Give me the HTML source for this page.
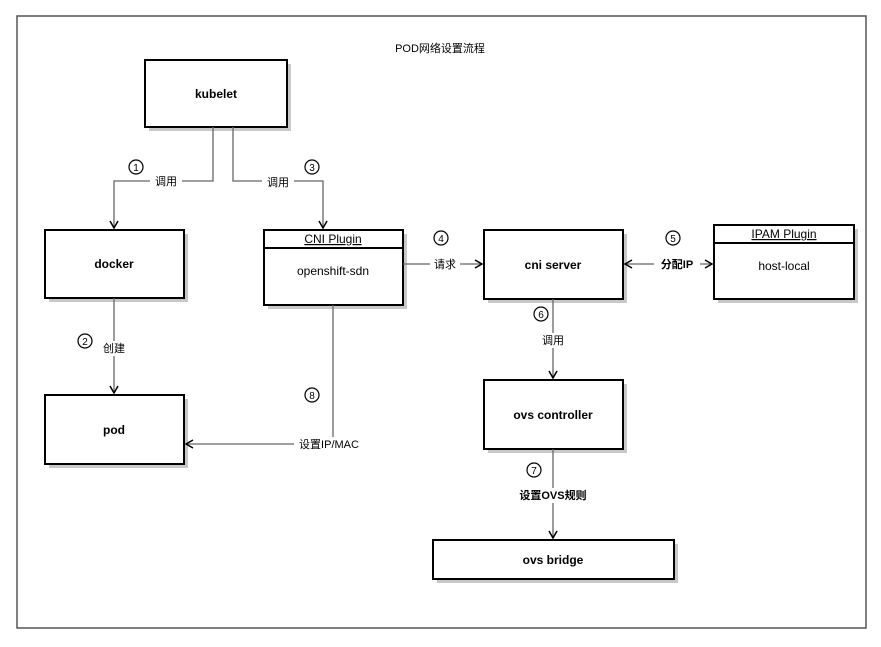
<!DOCTYPE html><html><head><meta charset="utf-8"><style>html,body{margin:0;padding:0;background:#fff}svg{display:block}text{font-family:"Liberation Sans","Noto Sans CJK SC",sans-serif;fill:#000}</style></head><body>
<svg width="881" height="647" viewBox="0 0 881 647" xmlns="http://www.w3.org/2000/svg">
<defs><marker id="a" markerWidth="10" markerHeight="10" refX="8" refY="5" orient="auto-start-reverse" markerUnits="userSpaceOnUse"><path d="M1,1 L8,5 L1,9" fill="none" stroke="#000" stroke-width="1.5"/></marker></defs>
<rect x="17" y="16" width="849" height="612" fill="#fff" stroke="#555" stroke-width="1.5"/>
<text x="440" y="52" font-size="11" text-anchor="middle" fill="#333">POD网络设置流程</text>
<g fill="#c8c8c8">
<rect x="149" y="64" width="142" height="67"/><rect x="49" y="234" width="139" height="68"/><rect x="268" y="234" width="139" height="75"/><rect x="488" y="234" width="139" height="69"/><rect x="718" y="229" width="140" height="74"/><rect x="49" y="399" width="139" height="69"/><rect x="488" y="384" width="139" height="69"/><rect x="437" y="544" width="241" height="39"/>
</g>
<g fill="#fff" stroke="#000" stroke-width="2">
<rect x="145" y="60" width="142" height="67"/><rect x="45" y="230" width="139" height="68"/><rect x="264" y="230" width="139" height="75"/><rect x="484" y="230" width="139" height="69"/><rect x="714" y="225" width="140" height="74"/><rect x="45" y="395" width="139" height="69"/><rect x="484" y="380" width="139" height="69"/><rect x="433" y="540" width="241" height="39"/>
<line x1="264" y1="248" x2="403" y2="248"/><line x1="714" y1="243" x2="854" y2="243"/>
</g>
<g font-size="12" font-weight="bold" text-anchor="middle">
<text x="216" y="98">kubelet</text><text x="114" y="268">docker</text><text x="553" y="269">cni server</text><text x="114" y="434">pod</text><text x="553" y="419">ovs controller</text><text x="553" y="564">ovs bridge</text>
</g>
<g font-size="12" text-anchor="middle" fill="#222">
<text x="333" y="243" text-decoration="underline">CNI Plugin</text><text x="333" y="275">openshift-sdn</text>
<text x="784" y="238" text-decoration="underline">IPAM Plugin</text><text x="784" y="270">host-local</text>
</g>
<g fill="none" stroke="#666" stroke-width="1.3">
<path d="M213,127 V181 H114 V228" marker-end="url(#a)"/>
<path d="M233,127 V181 H323 V228" marker-end="url(#a)"/>
<path d="M403,264 H482" marker-end="url(#a)"/>
<path d="M625,264 H712" marker-end="url(#a)" marker-start="url(#a)"/>
<path d="M553,299 V378" marker-end="url(#a)"/>
<path d="M114,298 V393" marker-end="url(#a)"/>
<path d="M333,305 V444 H186" marker-end="url(#a)"/>
<path d="M553,449 V538" marker-end="url(#a)"/>
</g>
<g font-size="11" text-anchor="middle">
<rect x="150" y="173" width="32" height="15" fill="#fff"/><text x="166" y="185">调用</text>
<rect x="262" y="174" width="32" height="15" fill="#fff"/><text x="278" y="186">调用</text>
<rect x="430" y="257" width="30" height="15" fill="#fff"/><text x="445" y="268">请求</text>
<rect x="654" y="257" width="46" height="15" fill="#fff"/><text x="677" y="268" font-weight="bold">分配IP</text>
<rect x="538" y="333" width="30" height="15" fill="#fff"/><text x="553" y="344">调用</text>
<rect x="99" y="341" width="30" height="15" fill="#fff"/><text x="114" y="352">创建</text>
<rect x="294" y="437" width="70" height="15" fill="#fff"/><text x="329" y="448">设置IP/MAC</text>
<rect x="515" y="488" width="76" height="15" fill="#fff"/><text x="553" y="499" font-weight="bold">设置OVS规则</text>
</g>
<g fill="#fff" stroke="#000" stroke-width="1.2">
<circle cx="136" cy="167" r="7"/><circle cx="312" cy="167" r="7"/><circle cx="441" cy="238" r="7"/><circle cx="673" cy="238" r="7"/><circle cx="541" cy="314" r="7"/><circle cx="85" cy="341" r="7"/><circle cx="312" cy="395" r="7"/><circle cx="534" cy="470" r="7"/>
</g>
<g font-size="10" text-anchor="middle">
<text x="136" y="171">1</text><text x="312" y="171">3</text><text x="441" y="242">4</text><text x="673" y="242">5</text><text x="541" y="318">6</text><text x="85" y="345">2</text><text x="312" y="399">8</text><text x="534" y="474">7</text>
</g>
</svg>
</body></html>
